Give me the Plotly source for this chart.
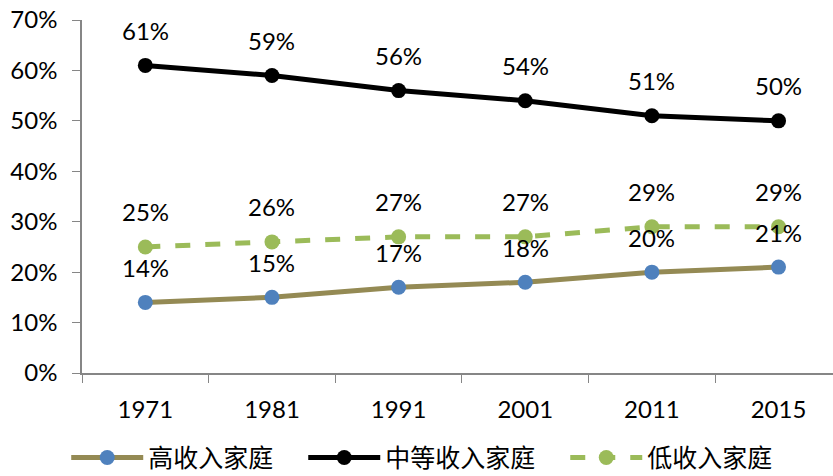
import plotly.graph_objects as go

years = ["1971", "1981", "1991", "2001", "2011", "2015"]
high_income = [14, 15, 17, 18, 20, 21]
middle_income = [61, 59, 56, 54, 51, 50]
low_income = [25, 26, 27, 27, 29, 29]
series_names = ["高收入家庭", "中等收入家庭", "低收入家庭"]
y_ticks = [0, 10, 20, 30, 40, 50, 60, 70]

FONT = "Lato, 'Open Sans', sans-serif"
CJK = "'Noto Sans CJK SC', sans-serif"

fig = go.Figure()
fig.add_trace(go.Scatter(
    x=years, y=high_income, name=series_names[0] + "\u3000", mode="lines+markers",
    line=dict(color="#948A54", width=5),
    marker=dict(color="#4F81BD", size=15),
))
fig.add_trace(go.Scatter(
    x=years, y=middle_income, name=series_names[1] + "\u3000", mode="lines+markers",
    line=dict(color="#000000", width=5),
    marker=dict(color="#000000", size=15),
))
fig.add_trace(go.Scatter(
    x=years, y=low_income, name=series_names[2], mode="lines+markers",
    line=dict(color="#9BBB59", width=5, dash="dash"),
    marker=dict(color="#9BBB59", size=15),
))

annotations = []
for series in (high_income, middle_income, low_income):
    for i, v in enumerate(series):
        annotations.append(dict(
            x=i, y=v, xref="x", yref="y", text=f"{v}%", showarrow=False,
            yshift=35, font=dict(family=FONT, size=24, color="#000000"),
        ))

fig.update_layout(
    width=833, height=476,
    margin=dict(l=82, r=0, t=20, b=103, autoexpand=False),
    paper_bgcolor="white", plot_bgcolor="white",
    annotations=annotations,
    showlegend=True,
    legend=dict(
        orientation="h", x=-0.021, xanchor="left", y=-0.24, yanchor="middle",
        font=dict(family=CJK, size=25, color="#000000"),
        itemwidth=72, bgcolor="rgba(0,0,0,0)",
    ),
    xaxis=dict(
        type="category", range=[-0.5, 5.43],
        tickson="boundaries", ticks="outside", ticklen=8,
        tickcolor="#868686", showline=True, linecolor="#868686", linewidth=1.5,
        showgrid=False, zeroline=False,
        tickfont=dict(family=FONT, size=24, color="#000000"),
        ticklabelstandoff=14,
    ),
    yaxis=dict(
        range=[0, 70], tickvals=y_ticks, ticktext=[f"{t}%" for t in y_ticks],
        ticks="outside", ticklen=8, tickcolor="#868686",
        showline=True, linecolor="#868686", linewidth=1.5,
        showgrid=False, zeroline=False, ticklabeloverflow="allow",
        tickfont=dict(family=FONT, size=24, color="#000000"),
        ticklabelstandoff=10,
    ),
)

fig.write_html(
    "out.html",
    config={"displayModeBar": False},
    post_script="document.body.style.margin='0';document.body.style.overflow='hidden';",
)
